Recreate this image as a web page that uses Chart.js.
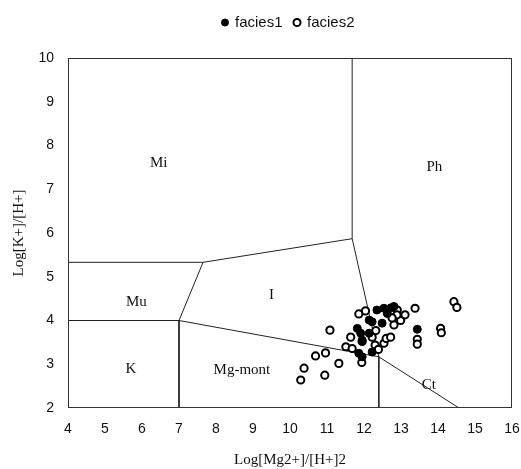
<!DOCTYPE html>
<html>
<head>
<meta charset="utf-8">
<script src="https://cdn.jsdelivr.net/npm/chart.js@4.4.1/dist/chart.umd.min.js"></script>
<style>
  body { margin: 0; background: #fff; }
  #wrap { width: 521px; height: 469px; }
</style>
</head>
<body>
<div id="wrap"><canvas id="myChart" width="521" height="469"></canvas></div>
<script>
// facies1 (filled)
const facies1X = [12.54, 12.81, 12.63, 12.35, 12.14, 12.49, 11.82, 11.91, 11.95, 13.44, 11.86, 11.95, 12.22, 12.14, 12.22, 12.73];
const facies1Y = [4.28, 4.32, 4.16, 4.24, 4.01, 3.94, 3.82, 3.71, 3.55, 3.80, 3.25, 3.17, 3.97, 3.71, 3.28, 4.29];

// facies2 (open)
const facies2X = [10.29, 10.38, 10.94, 10.69, 10.96, 11.32, 11.08, 11.51, 11.68, 11.64, 11.86, 12.04, 11.94, 12.32, 12.22, 12.30,
                  12.39, 12.54, 12.60, 12.72, 12.81, 12.99, 13.11, 12.90, 13.38, 13.44, 13.44, 14.07, 14.09, 14.43, 14.51, 11.95,
                  12.89, 12.76];
const facies2Y = [2.64, 2.91, 2.75, 3.19, 3.26, 3.02, 3.78, 3.40, 3.36, 3.62, 4.15, 4.22, 3.04, 3.77, 3.62, 3.44,
                  3.34, 3.48, 3.59, 3.62, 3.90, 4.00, 4.13, 4.24, 4.28, 3.57, 3.46, 3.82, 3.72, 4.43, 4.30, 3.52,
                  4.13, 4.06];

// stability field boundaries (polylines)
const boundaryA = [[4, 5.33], [7.65, 5.33], [11.68, 5.87], [11.68, 10]];
const boundaryB = [[4, 4], [7, 4], [7, 2]];
const boundaryC = [[7.65, 5.33], [7, 4]];
const boundaryD = [[7, 4], [12.4, 3.17], [12.4, 2]];
const boundaryE = [[11.68, 5.87], [12.4, 3.17], [14.57, 2]];

// field names
const fieldNames = ['Mi', 'Ph', 'Mu', 'I', 'K', 'Mg-mont', 'Ct'];
const fieldX = [6.45, 13.9, 5.85, 9.5, 5.7, 8.7, 13.75];
const fieldY = [7.6, 7.5, 4.42, 4.58, 2.89, 2.87, 2.53];

const xTicks = [4, 5, 6, 7, 8, 9, 10, 11, 12, 13, 14, 15, 16];
const yTicks = [2, 3, 4, 5, 6, 7, 8, 9, 10];

const toPts = (xs, ys) => xs.map((x, i) => ({ x: x, y: ys[i] }));
const toLine = arr => arr.map(p => ({ x: p[0], y: p[1] }));

function lineSet(arr) {
  return {
    label: '_line',
    data: toLine(arr),
    showLine: true,
    borderColor: '#222',
    borderWidth: 1,
    pointRadius: 0,
    fill: false,
    tension: 0
  };
}

const framePlugin = {
  id: 'frame',
  beforeInit(chart) {
    const fit = chart.legend.fit;
    chart.legend.fit = function () {
      fit.bind(chart.legend)();
      this.height += 18;
    };
  },
  afterLayout(chart) {
    // nudge legend to sit over the plot area
    chart.legend.left += 56;
  },
  afterDatasetsDraw(chart) {
    const ctx = chart.ctx;
    const a = chart.chartArea;
    const xs = chart.scales.x, ys = chart.scales.y;
    ctx.save();
    ctx.strokeStyle = '#333';
    ctx.lineWidth = 1;
    ctx.strokeRect(a.left + 0.5, a.top + 0.5, a.right - a.left - 1, a.bottom - a.top - 1);
    ctx.fillStyle = '#111';
    ctx.font = '15px "Liberation Serif", "Times New Roman", serif';
    ctx.textAlign = 'center';
    ctx.textBaseline = 'middle';
    fieldNames.forEach((n, i) => {
      ctx.fillText(n, xs.getPixelForValue(fieldX[i]), ys.getPixelForValue(fieldY[i]));
    });
    ctx.restore();
  }
};

const ctx = document.getElementById('myChart').getContext('2d');
const myChart = new Chart(ctx, {
  type: 'scatter',
  data: {
    datasets: [
      {
        label: 'facies1',
        data: toPts(facies1X, facies1Y),
        pointStyle: 'circle',
        backgroundColor: '#000',
        borderColor: '#000',
        borderWidth: 1,
        pointRadius: 4
      },
      {
        label: 'facies2',
        data: toPts(facies2X, facies2Y),
        pointStyle: 'circle',
        backgroundColor: '#fff',
        borderColor: '#000',
        borderWidth: 2,
        pointRadius: 3.6
      },
      lineSet(boundaryA),
      lineSet(boundaryB),
      lineSet(boundaryC),
      lineSet(boundaryD),
      lineSet(boundaryE)
    ]
  },
  options: {
    responsive: false,
    animation: false,
    layout: { padding: { top: 3, right: 0, left: 0, bottom: 0 } },
    plugins: {
      legend: {
        position: 'top',
        labels: {
          usePointStyle: true,
          boxWidth: 5,
          boxHeight: 5,
          padding: 12,
          color: '#111',
          font: { family: '"Liberation Sans", Arial, sans-serif', size: 15 },
          filter: item => item.text !== '_line'
        }
      },
      tooltip: { enabled: false }
    },
    scales: {
      x: {
        type: 'linear',
        min: 4,
        max: 16,
        afterBuildTicks: s => { s.ticks = xTicks.map(v => ({ value: v })); },
        afterFit: s => { s.height = 61; s.paddingRight = 9; s.paddingLeft = 0; },
        grid: { display: false },
        border: { display: false },
        ticks: {
          color: '#111',
          padding: 5,
          font: { family: '"Liberation Sans", Arial, sans-serif', size: 14 }
        },
        title: {
          display: true,
          text: 'Log[Mg2+]/[H+]2',
          color: '#111',
          padding: { top: 4, bottom: 0 },
          font: { family: '"Liberation Serif", "Times New Roman", serif', size: 15 }
        }
      },
      y: {
        type: 'linear',
        min: 2,
        max: 10,
        afterBuildTicks: s => { s.ticks = yTicks.map(v => ({ value: v })); },
        afterFit: s => { s.width = 68; },
        grid: { display: false },
        border: { display: false },
        ticks: {
          color: '#111',
          padding: 6,
          font: { family: '"Liberation Sans", Arial, sans-serif', size: 14 }
        },
        title: {
          display: true,
          text: 'Log[K+]/[H+]',
          color: '#111',
          padding: { top: 10, bottom: 0 },
          font: { family: '"Liberation Serif", "Times New Roman", serif', size: 15 }
        }
      }
    }
  },
  plugins: [framePlugin]
});
</script>
</body>
</html>
